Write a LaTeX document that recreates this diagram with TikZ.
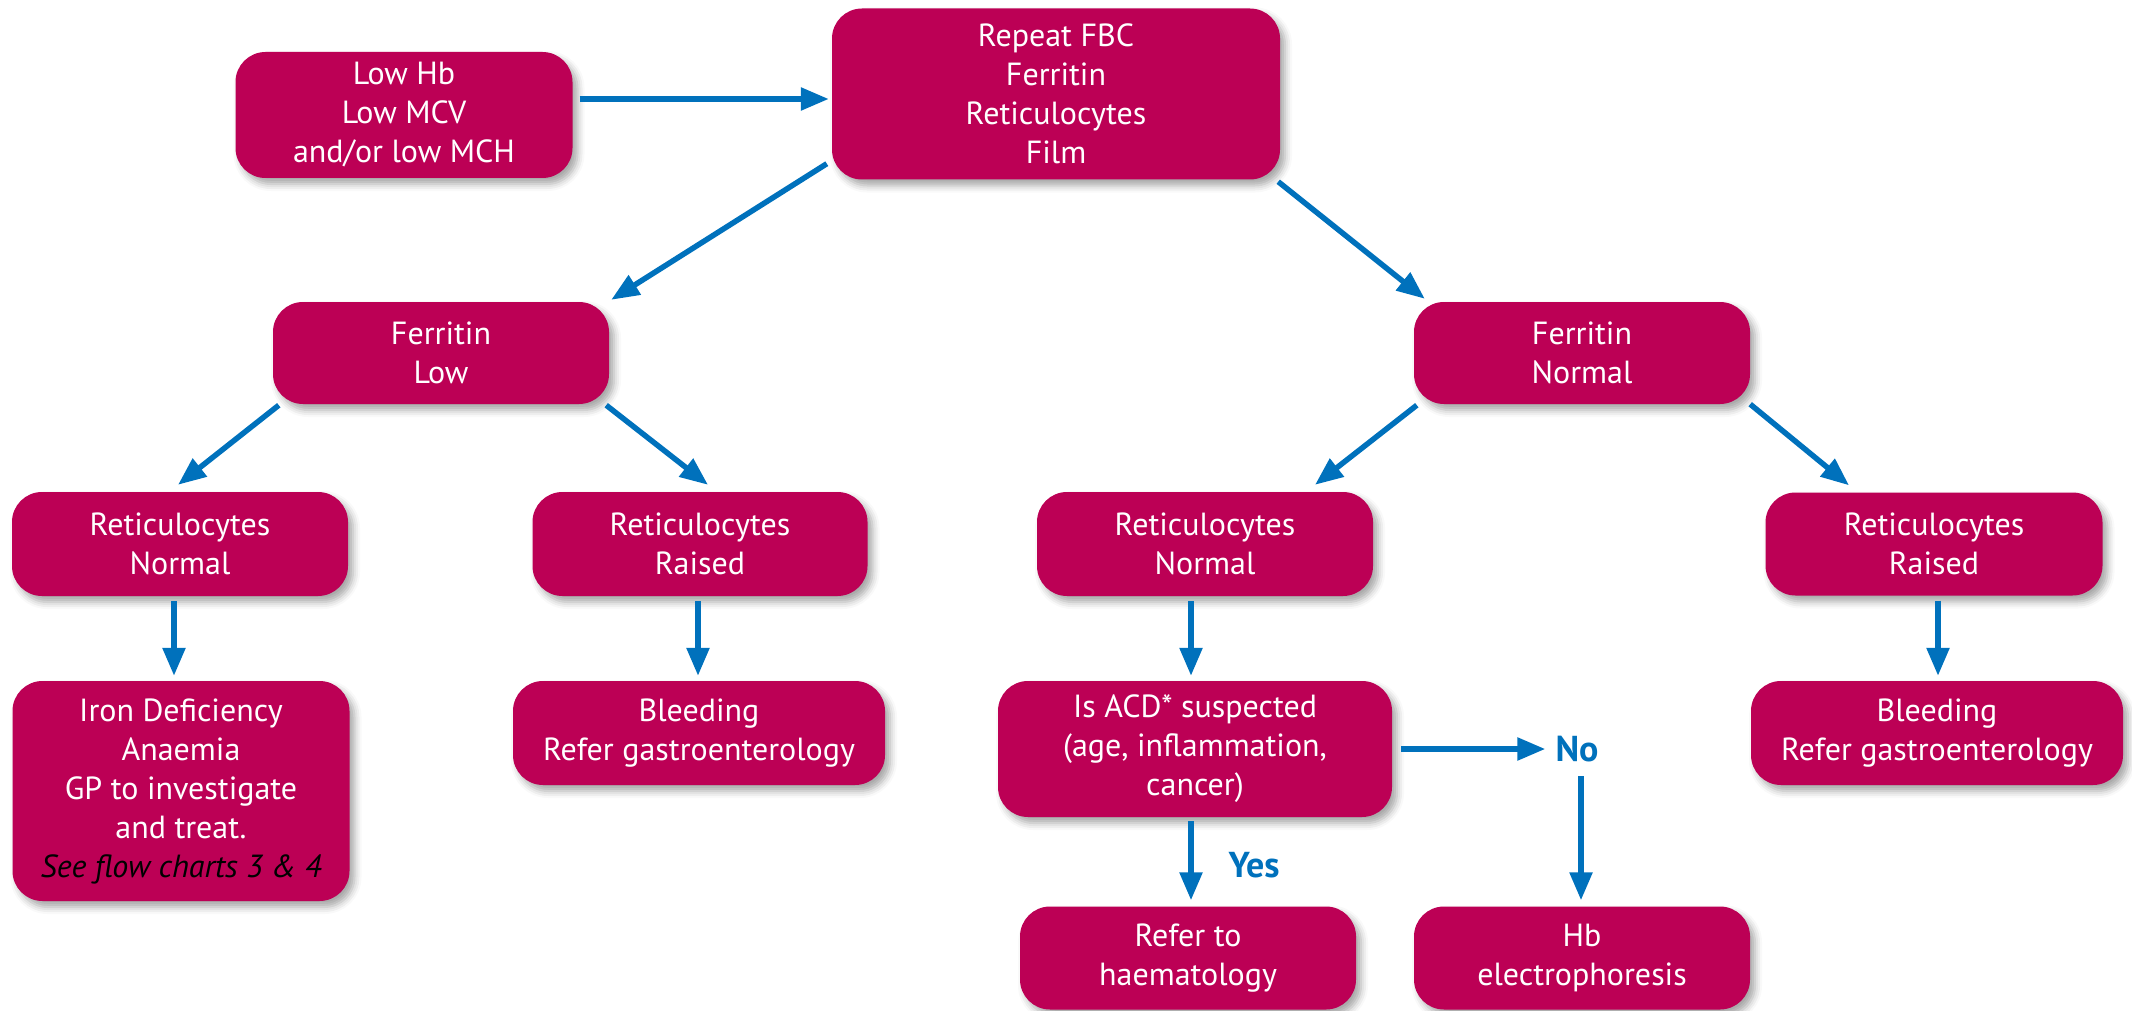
\documentclass[tikz,border=0pt]{standalone}
\usepackage{fontspec}
\setmainfont{PT Sans}
\usetikzlibrary{arrows.meta,shadows.blur}
\definecolor{mag}{HTML}{BC0055}
\definecolor{arrblue}{HTML}{0071BC}
\begin{document}
\begin{tikzpicture}[x=1pt,y=-1pt,
  box/.style={rectangle, rounded corners=30pt, fill=mag, text=white, align=center,
    inner sep=0pt, font=\fontsize{32}{39}\selectfont,
    blur shadow={shadow xshift=5pt,shadow yshift=-6pt,shadow blur radius=7pt,shadow opacity=35}},
  arr/.style={draw=arrblue, line width=5.5pt, -{Triangle[length=28pt,width=22pt]}},
  lbl/.style={text=arrblue, font=\fontsize{36}{40}\selectfont\bfseries, inner sep=0pt}]
\useasboundingbox (0,0) rectangle (2132,1011);

\node[box, minimum width=337pt, minimum height=126pt] (low) at (404,115) {Low Hb\\Low MCV\\and/or low MCH};
\node[box, minimum width=448pt, minimum height=171pt] (rep) at (1056,94) {Repeat FBC\\Ferritin\\Reticulocytes\\Film};
\node[box, minimum width=336pt, minimum height=102pt] (fl) at (441,353) {Ferritin\\Low};
\node[box, minimum width=336pt, minimum height=102pt] (fn) at (1582,353) {Ferritin\\Normal};
\node[box, minimum width=336pt, minimum height=104pt] (rnl) at (180,544) {Reticulocytes\\Normal};
\node[box, minimum width=335pt, minimum height=104pt] (rrl) at (700,544) {Reticulocytes\\Raised};
\node[box, minimum width=336pt, minimum height=104pt] (rnm) at (1205,544) {Reticulocytes\\Normal};
\node[box, minimum width=337pt, minimum height=103pt] (rrr) at (1934,544) {Reticulocytes\\Raised};
\node[box, minimum width=337pt, minimum height=220pt] (ida) at (181,791) {Iron Deficiency\\Anaemia\\GP to investigate\\and treat.\\{\color{black}\itshape See flow charts 3 \& 4}};
\node[box, minimum width=372pt, minimum height=104pt] (bl) at (699,733) {Bleeding\\Refer gastroenterology};
\node[box, minimum width=394pt, minimum height=136pt] (acd) at (1195,749) {Is ACD* suspected\\(age, inflammation,\\cancer)};
\node[box, minimum width=372pt, minimum height=104pt] (br) at (1937,733) {Bleeding\\Refer gastroenterology};
\node[box, minimum width=336pt, minimum height=103pt] (ref) at (1188,958) {Refer to\\haematology};
\node[box, minimum width=336pt, minimum height=103pt] (hb) at (1582,958) {Hb\\electrophoresis};

\node[lbl] (no) at (1577,749) {No};
\node[lbl] (yes) at (1254,865) {Yes};

\draw[arr] ([xshift=7pt,yshift=16pt]low.east) -- ([xshift=-3pt,yshift=-5pt]rep.west);
\draw[arr] ([xshift=-5pt,yshift=16pt]rep.south west) -- ([xshift=2pt,yshift=2pt]fl.north east);
\draw[arr] ([xshift=-2pt,yshift=-2pt]rep.south east) -- ([xshift=11pt,yshift=3pt]fn.north west);
\draw[arr] ([xshift=6pt,yshift=-1pt]fl.south west) -- ([xshift=-2pt,yshift=7pt]rnl.north);
\draw[arr] ([xshift=-3pt,yshift=-1pt]fl.south east) -- ([xshift=8pt,yshift=7pt]rrl.north);
\draw[arr] ([xshift=3pt,yshift=-1pt]fn.south west) -- ([xshift=110pt,yshift=7pt]rnm.north);
\draw[arr] (fn.south east) -- ([xshift=-85pt,yshift=7pt]rrr.north);
\draw[arr] ([xshift=-6pt,yshift=-5pt]rnl.south) -- ([xshift=-7pt,yshift=5pt]ida.north);
\draw[arr] ([xshift=-2pt,yshift=-5pt]rrl.south) -- ([xshift=-1pt,yshift=5pt]bl.north);
\draw[arr] ([xshift=-14pt,yshift=-5pt]rnm.south) -- ([xshift=-4pt,yshift=5pt]acd.north);
\draw[arr] ([xshift=4pt,yshift=-5pt]rrr.south) -- ([xshift=1pt,yshift=5pt]br.north);
\draw[arr] ([xshift=9pt]acd.east) -- ([xshift=-10pt]no.west);
\draw[arr] ([xshift=4pt,yshift=-14pt]no.south) -- ([xshift=-1pt,yshift=6pt]hb.north);
\draw[arr] ([xshift=-4pt,yshift=-4pt]acd.south) -- ([xshift=3pt,yshift=6pt]ref.north);
\end{tikzpicture}
\end{document}
